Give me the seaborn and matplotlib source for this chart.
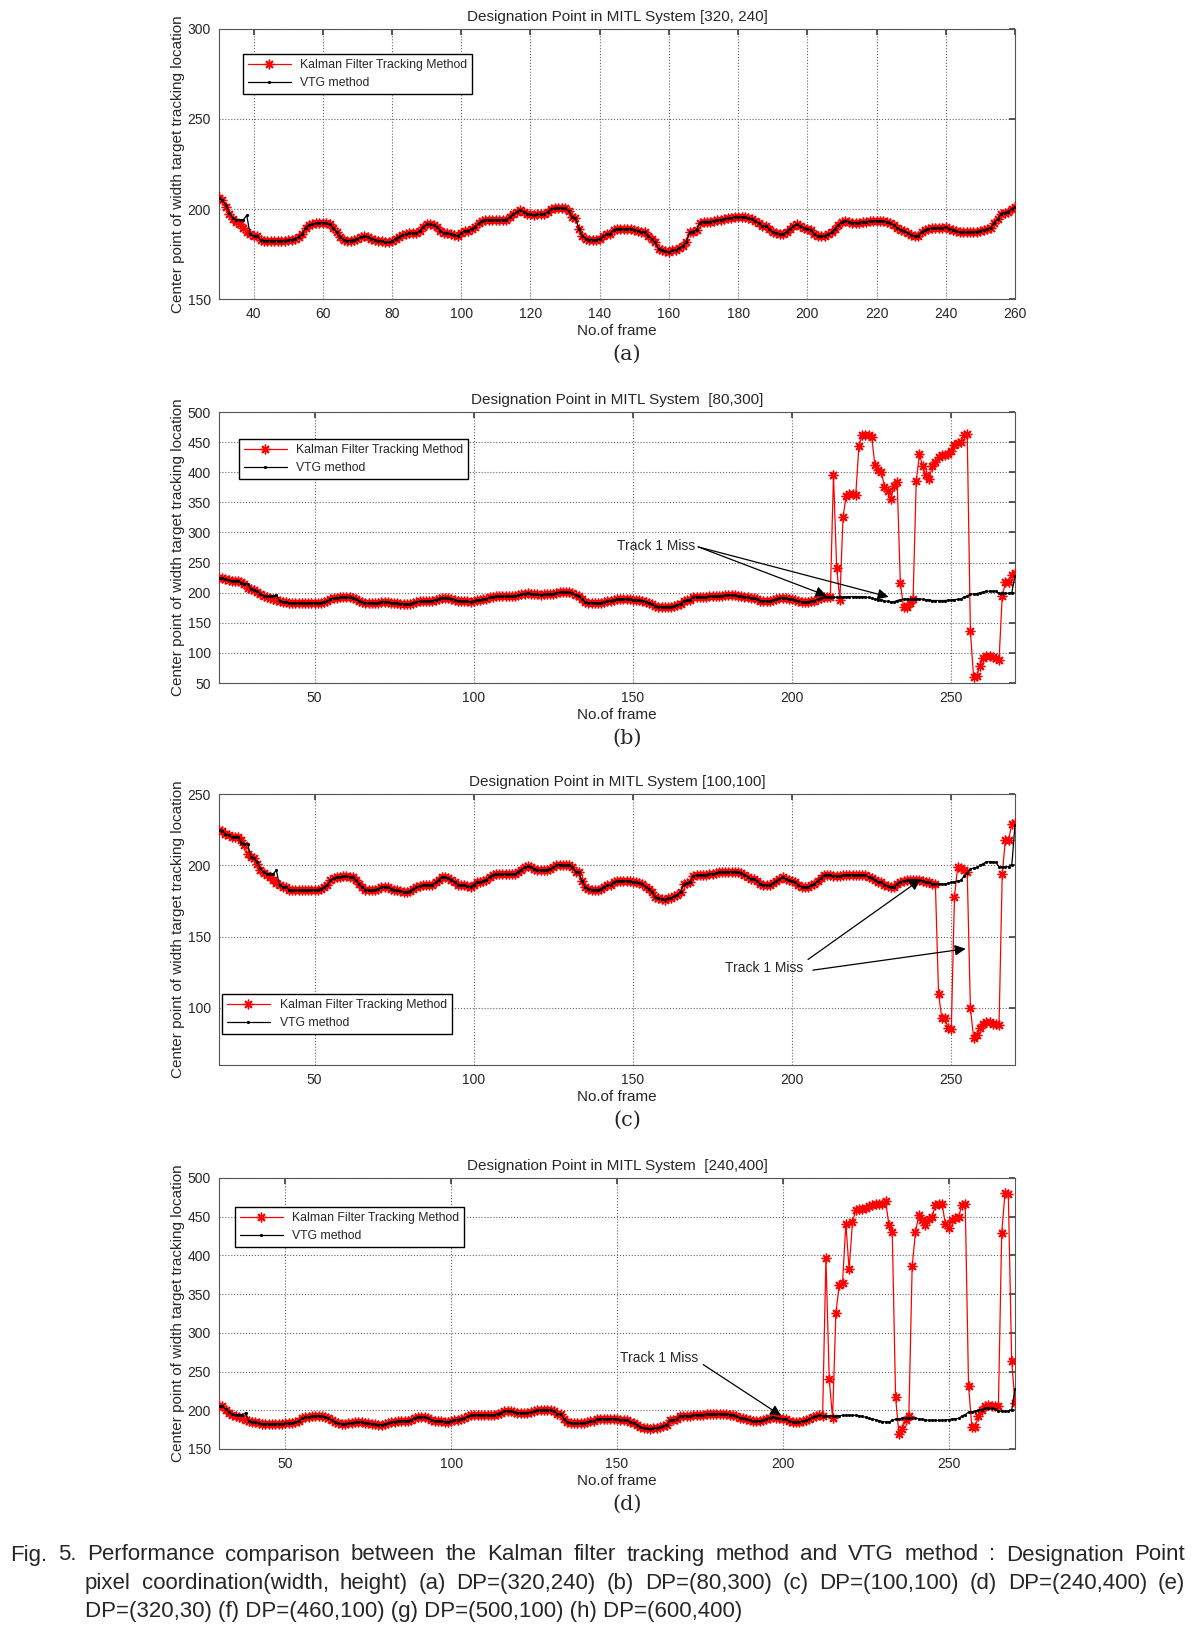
import matplotlib
matplotlib.use('Agg')
import matplotlib.pyplot as plt
import seaborn as sns

# frame numbers shared by every panel
frames = list(range(20, 271))

# VTG method centre point (frames 20..270)
vtg = [225, 224, 222, 221, 220, 220, 220, 216, 215, 215,
       206, 205, 202, 198, 195, 194, 194, 194, 196.5, 186,
       185, 185, 183, 182.5, 182.5, 182.5, 182.5, 182.5, 182.5, 182.5,
       183, 183, 183.5, 184.5, 186, 189.5, 191, 191.5, 192, 192.5,
       192.5, 192, 191.5, 189.5, 187, 184.5, 183, 182.5, 182.5, 183,
       183.5, 184.5, 185, 184.5, 183.5, 183, 182.5, 182, 181.5, 181.5,
       182, 183.5, 184.5, 185.5, 186, 186.5, 186.5, 186.5, 188, 190,
       191.5, 191.5, 191, 190, 188, 186.5, 186.5, 186, 185.5, 185,
       186.5, 188, 188, 189, 190, 192, 193.5, 194, 194, 194,
       194, 194, 194, 194, 195.5, 197, 198.5, 199.5, 198.5, 197.5,
       197, 196.5, 197, 197, 197.5, 198.5, 200, 200.5, 200.5, 200.5,
       200.5, 199, 195.5, 195, 189, 185, 183.5, 183, 183, 183,
       183.5, 185, 186, 186, 188.5, 189, 189, 189, 189, 189,
       188.5, 188, 187.5, 187, 185, 183.5, 181.5, 178, 177, 176.5,
       176, 177, 177, 178.5, 179.5, 181.5, 187, 187.5, 188.5, 192.5,
       193, 193, 193, 193.5, 194, 194, 194.5, 195, 195, 195.5,
       195.5, 195.5, 195.5, 195, 194.5, 193.5, 192, 190.5, 190.5, 189,
       187, 186.5, 186, 186, 187.5, 189, 190.5, 191.5, 190.5, 189.5,
       189, 188.5, 186, 185, 185, 185, 186, 187, 189, 191,
       193, 193.5, 193, 192.5, 192.5, 192.5, 193, 193, 193.5, 193.5,
       193.5, 193.5, 193.5, 193, 192, 191, 189.5, 188.5, 188, 186.5,
       185.5, 185, 185, 187, 188.5, 189, 189.5, 189.5, 189.5, 189.5,
       190, 189, 188.5, 188, 187, 187, 187, 187, 187, 187.5,
       188, 188.5, 189, 189.5, 192.5, 194.5, 197.5, 198, 198.5, 200,
       201, 202.5, 202.5, 202.5, 202, 199, 199, 199, 199, 200,
       228]

# Kalman filter start-up (frames 20..40)
kalman_start = [225, 224, 222, 221, 220, 220, 220, 218, 214, 208,
                206, 205, 201, 197, 194.5, 193, 191.5, 189.5, 187.5, 186,
                185]

# Kalman filter values after the track is lost
kalman_tail_b = [396, 241, 188, 326, 361, 364, 364, 363, 444, 462,
                 462, 461, 459, 412, 404, 401, 376, 369, 355, 377,
                 384, 216, 176, 177, 183, 190, 386, 430, 410, 396,
                 388, 410, 417, 426, 428, 428, 431, 436, 446, 448,
                 450, 462, 464, 136, 60, 62, 78, 92, 95, 95,
                 93, 92, 89, 194, 217, 218, 229, 232]
kalman_tail_c = [110, 93, 93, 86, 85, 178, 199, 198, 196.5, 195.5,
                 100, 79, 81, 86, 89, 90.5, 90, 89, 88.5, 88,
                 194, 218, 218, 229, 230]
kalman_tail_d = [397, 240, 190, 325, 362, 364, 441, 382, 443, 459,
                 460, 460, 461, 464, 465, 466, 466, 467, 470, 439,
                 430, 217, 170, 176, 187, 192, 386, 430, 452, 446,
                 439, 447, 449, 465, 467, 467, 441, 436, 446, 448,
                 450, 465, 467, 232, 178, 179, 193, 200, 206, 207,
                 206, 206, 205, 429, 481, 479, 264, 210]

titles = ['Designation Point in MITL System [320, 240]',
          'Designation Point in MITL System  [80,300]',
          'Designation Point in MITL System [100,100]',
          'Designation Point in MITL System  [240,400]']
letters = ['(a)', '(b)', '(c)', '(d)']
miss_start = [None, 213, 246, 213]
tails = [None, kalman_tail_b, kalman_tail_c, kalman_tail_d]
xlims = [(30, 260), (20, 270), (20, 270), (30, 270)]
ylims = [(150, 300), (50, 500), (60, 250), (150, 500)]
xticks = [list(range(40, 261, 20)), [50, 100, 150, 200, 250],
          [50, 100, 150, 200, 250], [50, 100, 150, 200, 250]]
yticks = [[150, 200, 250, 300], list(range(50, 501, 50)),
          [100, 150, 200, 250], list(range(150, 501, 50))]

sns.set_theme(style='white')
plt.rcParams['font.family'] = ['Liberation Sans', 'DejaVu Sans']

fig = plt.figure(figsize=(12.04, 16.29), dpi=100)
bottoms = [0.81645, 0.58072, 0.34622, 0.11050]
heights = [0.16575, 0.16636, 0.16636, 0.16636]

arrow = dict(arrowstyle='-|>', color='black', lw=0.9, mutation_scale=16,
             shrinkA=0, shrinkB=0)
star = (8, 2, 0)  # matlab style asterisk

for i in range(4):
    ax = fig.add_axes([0.1819, bottoms[i], 0.6611, heights[i]])
    if tails[i] is None:
        kal = kalman_start + vtg[21:]
    else:
        kal = kalman_start + vtg[21:miss_start[i] - 20] + tails[i]

    sns.lineplot(x=frames, y=kal, ax=ax, color='red', lw=0.9, marker=star,
                 markersize=7, markeredgewidth=1.0, markeredgecolor='red',
                 label='Kalman Filter Tracking Method', zorder=3)
    sns.lineplot(x=frames, y=vtg, ax=ax, color='black', lw=0.9, marker='.',
                 markersize=3, markeredgecolor='black',
                 label='VTG method', zorder=4)

    ax.set_xlim(xlims[i])
    ax.set_ylim(ylims[i])
    ax.set_xticks(xticks[i])
    ax.set_yticks(yticks[i])
    ax.grid(True, linestyle=':', color='#666666', linewidth=0.8)
    ax.tick_params(direction='in', top=True, right=True, length=4,
                   labelsize=10, color='#444444', pad=6)
    for s in ax.spines.values():
        s.set_color('#555555')
        s.set_linewidth(0.8)

    ax.set_title(titles[i], fontsize=11, pad=6)
    ax.set_xlabel('No.of frame', fontsize=11, labelpad=2)
    ax.set_ylabel('Center point of width target tracking location',
                  fontsize=11, labelpad=2)
    ax.text(0.5126, -0.205, letters[i], transform=ax.transAxes, ha='center',
            va='center', fontsize=15, family='DejaVu Serif')

    if i == 2:
        ax.legend(loc='lower left', bbox_to_anchor=(0.004, 0.114),
                  borderaxespad=0, fancybox=False, edgecolor='black',
                  framealpha=1, fontsize=8.8, handlelength=3.5)
    else:
        anchor = [(0.03, 0.907), (0.025, 0.9), None, (0.02, 0.893)][i]
        ax.legend(loc='upper left', bbox_to_anchor=anchor,
                  borderaxespad=0, fancybox=False, edgecolor='black',
                  framealpha=1, fontsize=8.8, handlelength=3.5)

    if i == 1:
        ax.text(169.5, 277, 'Track 1 Miss', ha='right', va='center', fontsize=10)
        ax.annotate('', xy=(210.8, 195), xytext=(170.5, 276), arrowprops=arrow)
        ax.annotate('', xy=(230.3, 193), xytext=(170.5, 276), arrowprops=arrow)
    elif i == 2:
        ax.text(179, 128, 'Track 1 Miss', ha='left', va='center', fontsize=10)
        ax.annotate('', xy=(240.3, 190), xytext=(205, 134), arrowprops=arrow)
        ax.annotate('', xy=(254.5, 141.5), xytext=(206.5, 126.5), arrowprops=arrow)
    elif i == 3:
        ax.text(151, 268, 'Track 1 Miss', ha='left', va='center', fontsize=10)
        ax.annotate('', xy=(199.5, 193), xytext=(176, 259), arrowprops=arrow)


def justify(line, x0, x1, y, **kw):
    texts = [fig.text(x0, y, w, va='center', **kw) for w in line.split(' ')]
    r = fig.canvas.get_renderer()
    widths = [t.get_window_extent(r).width for t in texts]
    W = fig.bbox.width
    gap = ((x1 - x0) * W - sum(widths)) / (len(texts) - 1)
    x = x0 * W
    for t, w in zip(texts, widths):
        t.set_x(x / W)
        x += w + gap


cap = dict(fontsize=16, family='Liberation Sans')
justify('Fig. 5. Performance comparison between the Kalman filter tracking '
        'method and VTG method : Designation Point',
        10 / 1204, 1185 / 1204, 1 - 1555 / 1629, **cap)
justify('pixel coordination(width, height) (a) DP=(320,240) (b) DP=(80,300) '
        '(c) DP=(100,100) (d) DP=(240,400) (e)',
        85 / 1204, 1185 / 1204, 1 - 1583 / 1629, **cap)
fig.text(85 / 1204, 1 - 1612 / 1629,
         'DP=(320,30) (f) DP=(460,100) (g) DP=(500,100) (h) DP=(600,400)',
         va='center', **cap)

fig.savefig('out.png', dpi=100)
